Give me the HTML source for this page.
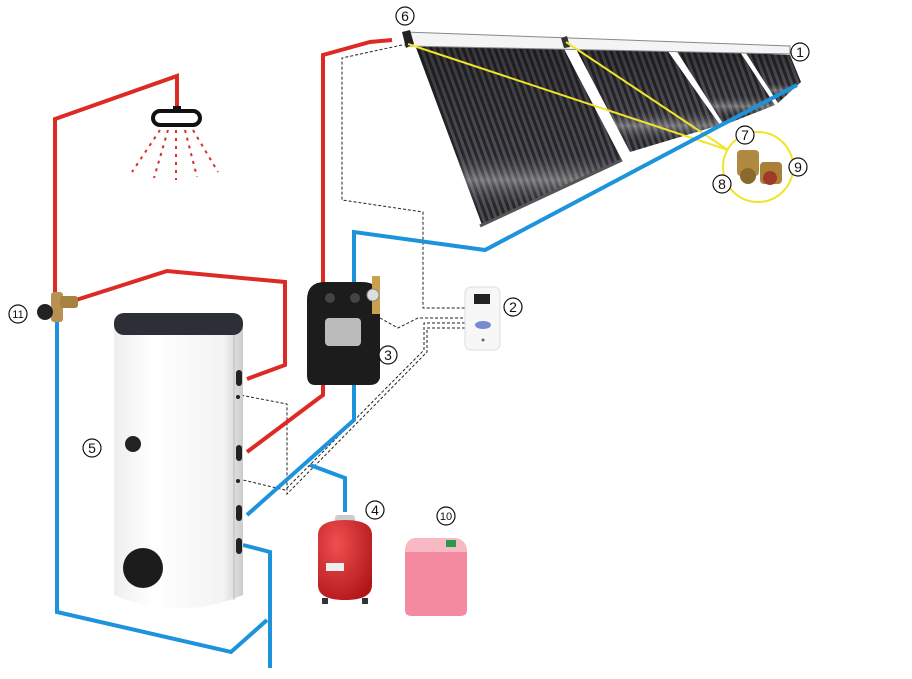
<!DOCTYPE html>
<html><head><meta charset="utf-8"><style>
html,body{margin:0;padding:0;background:#fff;}
svg{display:block}
text{font-family:"Liberation Sans",sans-serif;font-size:14px;fill:#111;text-anchor:middle}
</style></head><body>
<svg width="912" height="679" viewBox="0 0 912 679">
<defs>
<pattern id="tubes" width="6" height="10" patternUnits="userSpaceOnUse" patternTransform="rotate(-20)">
<rect width="6" height="10" fill="#2a2a2e"/><rect x="0" width="3" height="10" fill="#55555c"/>
</pattern>
<linearGradient id="shade" x1="0" y1="0" x2="0" y2="1">
<stop offset="0" stop-color="#000" stop-opacity="0.35"/>
<stop offset="0.6" stop-color="#000" stop-opacity="0.1"/>
<stop offset="0.75" stop-color="#fff" stop-opacity="0.3"/>
<stop offset="0.9" stop-color="#000" stop-opacity="0.1"/>
</linearGradient>
<linearGradient id="tank" x1="0" x2="1">
<stop offset="0" stop-color="#eee"/><stop offset="0.3" stop-color="#fff"/><stop offset="0.85" stop-color="#f3f3f3"/><stop offset="1" stop-color="#ccc"/>
</linearGradient>
<radialGradient id="redv" cx="0.35" cy="0.3" r="0.8"><stop offset="0" stop-color="#f05050"/><stop offset="1" stop-color="#b01518"/></radialGradient>
</defs>

<!-- collectors -->
<g>
<polygon points="415,45 563,47 622,160 482,225" fill="url(#tubes)"/>
<polygon points="415,45 563,47 622,160 482,225" fill="url(#shade)"/>
<polygon points="575,47 667,50 720,125 630,152" fill="url(#tubes)"/>
<polygon points="575,47 667,50 720,125 630,152" fill="url(#shade)"/>
<polygon points="676,50 740,52 775,105 724,125" fill="url(#tubes)"/>
<polygon points="676,50 740,52 775,105 724,125" fill="url(#shade)"/>
<polygon points="746,53 790,55 801,82 778,103" fill="url(#tubes)"/>
<polygon points="746,53 790,55 801,82 778,103" fill="url(#shade)"/>
<polygon points="405,32 790,46 790,54 405,46" fill="#f4f4f4" stroke="#888" stroke-width="1"/>
<polygon points="402,32 410,30 414,44 406,48" fill="#222"/>
<polygon points="561,38 567,36 570,47 564,48" fill="#333"/>
<line x1="480" y1="226" x2="622" y2="160" stroke="#555" stroke-width="3"/>
</g>

<!-- yellow -->
<g stroke="#f0e52a" stroke-width="2" fill="none">
<line x1="408" y1="44" x2="728" y2="150"/>
<line x1="566" y1="42" x2="728" y2="150"/>
<circle cx="758" cy="167" r="35"/>
</g>
<g>
<rect x="737" y="150" width="22" height="26" rx="4" fill="#b08a40"/>
<circle cx="748" cy="176" r="8" fill="#8a6a2a"/>
<rect x="760" y="162" width="22" height="22" rx="4" fill="#a98035"/>
<circle cx="770" cy="178" r="7" fill="#a03a2a"/>
</g>

<!-- dotted control wires -->
<g stroke="#222" stroke-width="1" stroke-dasharray="3,2" fill="none">
<polyline points="402,45 342,58 342,200 423,212 423,308 465,308"/>
<polyline points="380,318 398,328 418,318 465,318"/>
<polyline points="465,323 424,323 424,350 285,490 243,480"/>
<polyline points="465,328 427,328 427,352 287,494 287,404 240,395"/>
</g>

<!-- red pipes -->
<g stroke="#dd2a25" stroke-width="4" fill="none" stroke-linejoin="miter">
<polyline points="55,300 55,119 177,76 177,112"/>
<polyline points="76,300 167,271 285,282 285,365 247,379"/>
<polyline points="323,285 323,55 370,42 392,40"/>
<polyline points="323,385 323,395 247,452"/>
</g>
<!-- blue pipes -->
<g stroke="#1d93dc" stroke-width="4" fill="none">
<polyline points="57,312 57,612 231,652 267,620"/>
<polyline points="243,545 270,552 270,668"/>
<polyline points="354,285 354,232 485,250 797,85"/>
<polyline points="354,385 354,420 247,515"/>
<polyline points="310,465 345,478 345,512"/>
</g>

<!-- shower -->
<g>
<rect x="153" y="111" width="47" height="14" rx="7" fill="none" stroke="#111" stroke-width="4"/>
<rect x="173" y="106" width="8" height="6" fill="#111"/>
<g stroke="#dd2a25" stroke-width="2" stroke-dasharray="3,5" fill="none">
<line x1="160" y1="130" x2="132" y2="172"/>
<line x1="168" y1="130" x2="154" y2="178"/>
<line x1="176" y1="130" x2="176" y2="180"/>
<line x1="185" y1="130" x2="197" y2="177"/>
<line x1="193" y1="130" x2="218" y2="172"/>
</g>
</g>

<!-- mixing valve 11 -->
<g>
<rect x="51" y="292" width="12" height="30" rx="3" fill="#b89050"/>
<rect x="60" y="296" width="18" height="12" rx="3" fill="#a88040"/>
<circle cx="45" cy="312" r="8" fill="#222"/>
</g>

<!-- tank -->
<g>
<path d="M114,328 L114,595 Q178,622 243,595 L243,328 Z" fill="url(#tank)"/>
<line x1="234" y1="332" x2="234" y2="600" stroke="#bbb" stroke-width="1"/>
<rect x="114" y="313" width="129" height="22" rx="10" fill="#2c2f38"/>
<circle cx="133" cy="444" r="8" fill="#222"/>
<ellipse cx="143" cy="568" rx="20" ry="20" fill="#1c1c1c"/>
<g fill="#222"><rect x="236" y="370" width="6" height="16" rx="3"/><rect x="236" y="445" width="6" height="16" rx="3"/><rect x="236" y="505" width="6" height="16" rx="3"/><rect x="236" y="538" width="6" height="16" rx="3"/><circle cx="238" cy="397" r="2"/><circle cx="238" cy="481" r="2"/></g>
</g>

<!-- pump station 3 -->
<g>
<path d="M307,300 Q307,282 325,282 L362,282 Q380,282 380,300 L380,378 Q378,385 370,385 L315,385 Q307,385 307,375 Z" fill="#1c1c1c"/>
<rect x="325" y="318" width="36" height="28" rx="4" fill="#bbb"/>
<circle cx="330" cy="298" r="5" fill="#444"/><circle cx="355" cy="298" r="5" fill="#444"/>
<rect x="372" y="276" width="8" height="38" fill="#c9a050"/>
<circle cx="373" cy="295" r="6" fill="#ddd" stroke="#888"/>
</g>

<!-- controller 2 -->
<g>
<rect x="465" y="287" width="35" height="63" rx="6" fill="#f7f7f7" stroke="#ddd"/>
<rect x="474" y="294" width="16" height="10" fill="#222"/>
<ellipse cx="483" cy="325" rx="8" ry="4" fill="#7a8ad0"/>
<circle cx="483" cy="340" r="1.5" fill="#666"/>
</g>

<!-- expansion vessel 4 -->
<g>
<rect x="335" y="515" width="20" height="8" rx="3" fill="#ccc"/>
<path d="M318,535 Q318,520 345,520 Q372,520 372,535 L372,585 Q372,600 345,600 Q318,600 318,585 Z" fill="url(#redv)"/>
<rect x="326" y="563" width="18" height="8" fill="#eee"/>
<rect x="322" y="598" width="6" height="6" fill="#333"/><rect x="362" y="598" width="6" height="6" fill="#333"/>
</g>

<!-- canister 10 -->
<g>
<path d="M405,552 Q405,540 415,538 L455,538 Q467,540 467,552 L467,610 Q467,616 460,616 L412,616 Q405,616 405,610 Z" fill="#f48aa0"/>
<path d="M405,552 Q405,540 415,538 L455,538 Q467,540 467,552 Z" fill="#f8b8c4"/>
<rect x="446" y="540" width="10" height="7" fill="#2a9a4a"/>
</g>

<!-- labels -->
<g fill="#fff" stroke="#111" stroke-width="1.2">
<circle cx="800" cy="52" r="9"/><circle cx="513" cy="307" r="9"/><circle cx="388" cy="355" r="9"/>
<circle cx="375" cy="510" r="9"/><circle cx="92" cy="448" r="9"/><circle cx="405" cy="16" r="9"/>
<circle cx="745" cy="135" r="9"/><circle cx="722" cy="184" r="9"/><circle cx="798" cy="167" r="9"/>
<circle cx="446" cy="516" r="9"/><circle cx="18" cy="314" r="9"/>
</g>
<text x="800" y="57">1</text><text x="513" y="312">2</text><text x="388" y="360">3</text>
<text x="375" y="515">4</text><text x="92" y="453">5</text><text x="405" y="21">6</text>
<text x="745" y="140">7</text><text x="722" y="189">8</text><text x="798" y="172">9</text>
<text x="446" y="520" style="font-size:11px">10</text><text x="18" y="318" style="font-size:11px">11</text>
</svg>
</body></html>
